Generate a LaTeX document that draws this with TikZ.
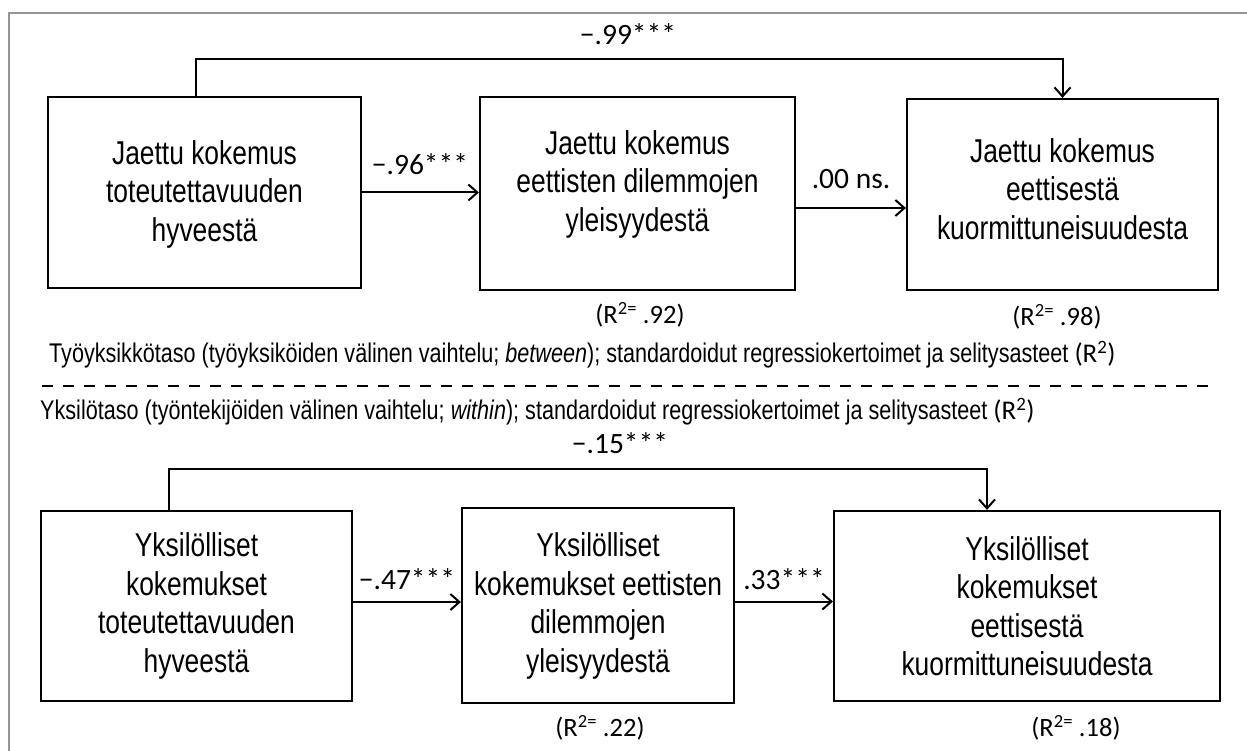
\documentclass[tikz,border=0pt]{standalone}
\usepackage{fontspec}
\setmainfont[FakeStretch=0.8]{Liberation Sans}
\newfontfamily\carl{Carlito}
\usetikzlibrary{arrows.meta}
\definecolor{framegray}{RGB}{150,150,150}
\tikzset{
  boxnode/.style={draw=black, line width=2.2pt, rectangle, inner sep=0pt},
  boxtext/.style={inner sep=0pt, align=center, font=\fontsize{33}{38.5}\selectfont},
  arr/.style={draw=black, line width=2pt, -{Straight Barb[length=9pt,width=16pt,line width=2pt]}},
  coef/.style={inner sep=0pt, font=\carl\fontsize{29.5}{32}\selectfont},
  rsq/.style={inner sep=0pt, font=\carl\fontsize{26.5}{30}\selectfont},
  levtext/.style={inner sep=0pt, anchor=west, font=\fontsize{27}{30}\selectfont},
  sepline/.style={draw=black, line width=2pt, dash pattern=on 11pt off 10pt},
  framestyle/.style={draw=framegray, line width=2.5pt}
}
\begin{document}
\begin{tikzpicture}[x=1pt,y=-1pt]
\useasboundingbox (0,0) rectangle (1247,751);
% frame
\coordinate (f0) at (9,13);
\coordinate (f1) at (1260,13);
\coordinate (f2) at (9,760);
\draw[framestyle] (f1) -- (f0) -- (f2);

% top row
\node[boxnode, minimum width=313pt, minimum height=191pt] (t1) at (204.5,192.5) {};
\node[boxtext] (t1txt) at (204.5,194) {Jaettu kokemus\\toteutettavuuden\\hyveestä};
\node[boxnode, minimum width=315pt, minimum height=193pt] (t2) at (637.5,193.5) {};
\node[boxtext] (t2txt) at (637.5,184) {Jaettu kokemus\\eettisten dilemmojen\\yleisyydestä};
\node[boxnode, minimum width=311pt, minimum height=191pt] (t3) at (1062.5,194.5) {};
\node[boxtext] (t3txt) at (1062.5,189) {Jaettu kokemus\\eettisestä\\kuormittuneisuudesta};

\coordinate (topc) at (628,59);
\draw[arr] ([xshift=-8.5pt]t1.north) |- (topc) -| (t3.north);
\node[coef] (c99) at (628,34) {−.99***};

\draw[arr] (t1.east) -- (t1.east -| t2.west);
\node[coef] (c96) at (420,164) {−.96***};
\draw[arr] ([yshift=-14.5pt]t2.east) -- ([yshift=-14.5pt]t2.east -| t3.west);
\node[coef] (c00) at (851,179) {.00 ns.};

\node[rsq] (r92) at (640,315) {(R\textsuperscript{2=} .92)};
\node[rsq] (r98) at (1057,317) {(R\textsuperscript{2=} .98)};

% separator
\node[levtext] (lev1) at (49,355) {Työyksikkötaso (työyksiköiden välinen vaihtelu; \textit{between}); standardoidut regressiokertoimet ja selitysasteet {\carl\fontsize{27}{30}\selectfont (R\textsuperscript{2})}};
\coordinate (s0) at (42,386);
\coordinate (s1) at (1214,386);
\draw[sepline] (s0) -- (s1);
\node[levtext] (lev2) at (40,412) {Yksilötaso (työntekijöiden välinen vaihtelu; \textit{within}); standardoidut regressiokertoimet ja selitysasteet {\carl\fontsize{27}{30}\selectfont (R\textsuperscript{2})}};

% bottom row
\node[boxnode, minimum width=311pt, minimum height=190pt] (b1) at (196.5,606) {};
\node[boxtext] (b1txt) at (196.5,606) {Yksilölliset\\kokemukset\\toteutettavuuden\\hyveestä};
\node[boxnode, minimum width=272pt, minimum height=195pt] (b2) at (598,605.5) {};
\node[boxtext] (b2txt) at (598,606) {Yksilölliset\\kokemukset eettisten\\dilemmojen\\yleisyydestä};
\node[boxnode, minimum width=386pt, minimum height=190pt] (b3) at (1027,606) {};
\node[boxtext] (b3txt) at (1027,606) {Yksilölliset\\kokemukset\\eettisestä\\kuormittuneisuudesta};

\coordinate (botc) at (620,469);
\draw[arr] ([xshift=-27.5pt]b1.north) |- (botc) -| ([xshift=-40pt]b3.north);
\node[coef] (c15) at (620,443) {−.15***};

\draw[arr] ([yshift=4pt]b1.east) -- ([yshift=4pt]b1.east -| b2.west);
\node[coef] (c47) at (407,579) {−.47***};
\draw[arr] ([yshift=4pt]b2.east) -- ([yshift=4pt]b2.east -| b3.west);
\node[coef] (c33) at (784,579) {.33***};

\node[rsq] (r22) at (600,728) {(R\textsuperscript{2=} .22)};
\node[rsq] (r18) at (1076,728) {(R\textsuperscript{2=} .18)};
\end{tikzpicture}
\end{document}
